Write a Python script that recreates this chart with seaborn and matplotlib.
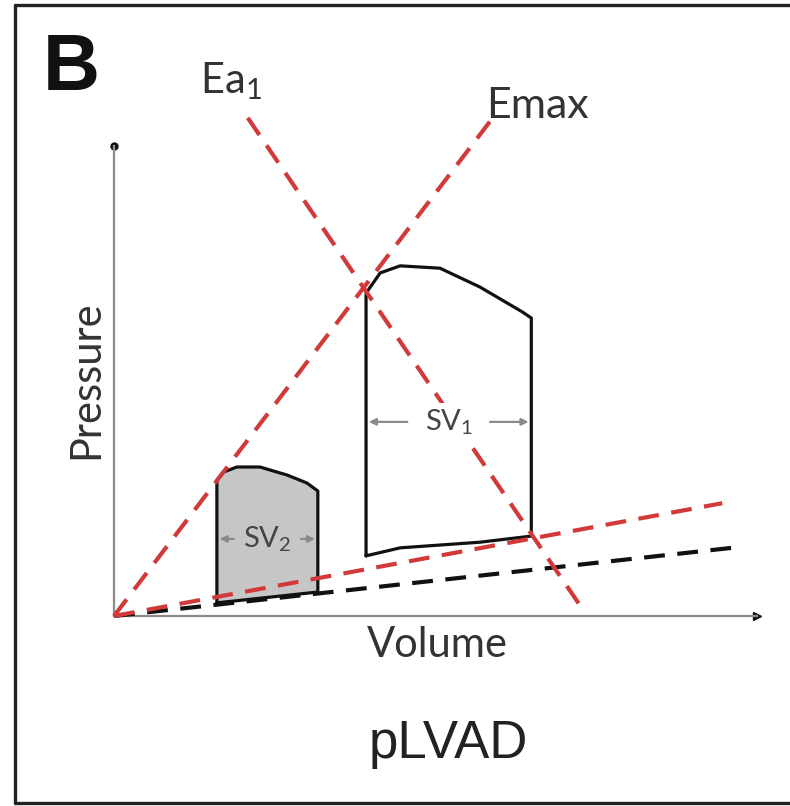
import matplotlib
matplotlib.use("Agg")
import matplotlib.pyplot as plt
from matplotlib.lines import Line2D
import seaborn as sns
import pandas as pd

# Pressure-volume schematic (arbitrary units, 0-100 on both axes)
big_loop_vol = [39.2, 39.2, 41.4, 44.5, 50.7, 56.9, 63.5, 64.9, 64.9, 56.9, 50.7, 44.5, 39.2]
big_loop_prs = [12.8, 68.7, 73.0, 74.5, 74.0, 70.0, 64.7, 63.4, 17.0, 15.7, 15.1, 14.5, 12.8]

small_loop_vol = [16.0, 16.0, 17.0, 19.1, 22.7, 26.9, 30.0, 31.7, 31.7, 16.0]
small_loop_prs = [2.8, 28.9, 30.6, 31.7, 31.7, 30.0, 28.3, 26.6, 5.1, 2.8]

emax_vol = [0.0, 58.9]
emax_prs = [0.0, 106.0]
ea1_vol = [20.8, 73.3]
ea1_prs = [106.0, 0.6]
espvr_low_vol = [0.0, 94.6]
espvr_low_prs = [0.0, 24.0]
edpvr_vol = [0.0, 96.1]
edpvr_prs = [0.0, 14.5]

sv1_span = [39.2, 64.9]
sv1_level = 41.3
sv2_span = [16.0, 31.7]
sv2_level = 16.4

sns.set_theme(style="white")
plt.rcParams["mathtext.fontset"] = "custom"
plt.rcParams["mathtext.rm"] = "Lato"
plt.rcParams["mathtext.it"] = "Lato"

W, H = 790, 806
fig = plt.figure(figsize=(W / 100, H / 100), dpi=100)
fig.patch.set_facecolor("white")

x0, y0, x1, y1 = 114, 616, 757, 146
ax = fig.add_axes([x0 / W, (H - y0) / H, (x1 - x0) / W, (y0 - y1) / H])
ax.set_xlim(0, 100)
ax.set_ylim(0, 100)
ax.set_facecolor("none")
ax.set_xticks([])
ax.set_yticks([])
for s in ["top", "right"]:
    ax.spines[s].set_visible(False)
for s in ["left", "bottom"]:
    ax.spines[s].set_color("#8c8c8c")
    ax.spines[s].set_linewidth(1.6)
ax.plot(1, 0, marker=">", color="#111111", markersize=6,
        transform=ax.get_yaxis_transform(), clip_on=False)
ax.plot(0, 1, marker="o", color="#111111", markersize=5,
        transform=ax.get_xaxis_transform(), clip_on=False)

red = "#d23a3a"


def dashed(xs, ys, color):
    df = pd.DataFrame({"v": xs, "p": ys})
    sns.lineplot(data=df, x="v", y="p", ax=ax, color=color, lw=3.0,
                 sort=False, estimator=None, dashes=False, clip_on=False,
                 zorder=4)
    ax.lines[-1].set_dashes((5, 3))


# pressure-volume loops
small = pd.DataFrame({"v": small_loop_vol, "p": small_loop_prs})
ax.fill(small["v"], small["p"], color="#c6c6c6", zorder=1)
sns.lineplot(data=small, x="v", y="p", ax=ax, color="#111111", lw=2.3,
             sort=False, estimator=None, zorder=3)
big = pd.DataFrame({"v": big_loop_vol, "p": big_loop_prs})
sns.lineplot(data=big, x="v", y="p", ax=ax, color="#111111", lw=2.3,
             sort=False, estimator=None, zorder=3)

# elastance lines
dashed(edpvr_vol, edpvr_prs, "#111111")
dashed(espvr_low_vol, espvr_low_prs, red)
dashed(emax_vol, emax_prs, red)
dashed(ea1_vol, ea1_prs, red)
ax.set_xlabel("")
ax.set_ylabel("")

# stroke volume arrows
arrow_kw = dict(arrowstyle="-|>", color="#8a8a8a", lw=1.6, mutation_scale=10)
for (a, b), lvl, label, gap, bg in [(sv1_span, sv1_level, r"SV$_\mathrm{1}$", 6.0, "white"),
                                    (sv2_span, sv2_level, r"SV$_\mathrm{2}$", 4.8, "none")]:
    mid = (a + b) / 2
    ax.annotate("", xy=(a, lvl), xytext=(mid - gap, lvl), arrowprops=arrow_kw, zorder=5)
    ax.annotate("", xy=(b, lvl), xytext=(mid + gap, lvl), arrowprops=arrow_kw, zorder=5)
    ax.text(mid, lvl, label, ha="center", va="center", fontsize=21,
            family="Lato", color="#444444", zorder=6,
            bbox=dict(boxstyle="square,pad=0.15", fc=bg, ec="none"))

# labels placed in figure pixel space
def px_text(x, y, s, **kw):
    fig.text(x / W, 1 - y / H, s, **kw)


px_text(43, 90, "B", fontsize=57, fontweight="bold", family="Liberation Sans",
        color="#111111", ha="left", va="baseline")
px_text(200, 93, r"Ea$_\mathrm{1}$", fontsize=30, family="Lato", color="#333333",
        ha="left", va="baseline")
px_text(486, 118, "Emax", fontsize=31, family="Lato", color="#333333",
        ha="left", va="baseline")
px_text(86, 380, "Pressure", fontsize=30, family="Lato", color="#333333",
        ha="center", va="center", rotation=90)
px_text(437, 657, "Volume", fontsize=30, family="Lato", color="#333333",
        ha="center", va="baseline")
px_text(448, 758, "pLVAD", fontsize=38, family="Liberation Sans", color="#222222",
        ha="center", va="baseline")

# panel frame (open on the right)
frame_kw = dict(color="#222222", lw=2.4, transform=fig.transFigure)
fig.add_artist(Line2D([15 / W, 15 / W], [1 - 5 / H, 1 - 803 / H], **frame_kw))
fig.add_artist(Line2D([15 / W, 1.0], [1 - 5 / H, 1 - 5 / H], **frame_kw))
fig.add_artist(Line2D([15 / W, 1.0], [1 - 803 / H, 1 - 803 / H], **frame_kw))

fig.savefig("out.png", dpi=100, facecolor="white")
